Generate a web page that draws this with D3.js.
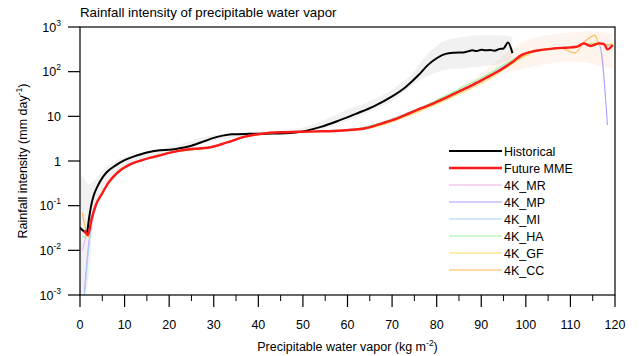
<!DOCTYPE html>
<html>
<head>
<meta charset="utf-8">
<script src="https://cdn.jsdelivr.net/npm/d3@7"></script>
<style>
  body { margin: 0; background: #fff; }
  svg text { font-family: "Liberation Sans", Arial, sans-serif; fill: #000; }
</style>
</head>
<body>
<div id="chart"></div>
<script>
// ---- data ----
const histPwv = [0, 1, 1.5, 2, 2.5, 3, 4, 5, 6, 8, 10, 12, 15, 18, 20, 22, 25, 28, 30, 32, 34, 38, 42, 46, 50, 54, 58, 62, 66, 70, 73, 76, 78, 80, 82, 84, 86, 87, 88, 89, 90, 91, 92, 93, 94, 95, 96, 97];
const histRain = [0.032, 0.026, 0.024, 0.05, 0.1, 0.16, 0.28, 0.42, 0.56, 0.8, 1.05, 1.25, 1.55, 1.75, 1.78, 1.9, 2.2, 2.8, 3.3, 3.7, 3.95, 4.05, 4.1, 4.2, 4.6, 5.8, 8.0, 11.5, 17, 28, 45, 85, 140, 200, 250, 265, 270, 285, 300, 290, 310, 300, 305, 295, 320, 330, 450, 260];

const mmePwv = [1, 1.8, 2.6, 3.5, 5, 6.5, 8.5, 11, 14, 17.5, 21, 25, 29, 33, 37, 41, 45, 49, 53, 57, 61, 64, 67, 70, 73, 76, 79, 82, 85, 88, 91, 94, 97, 99, 102, 105, 108, 110, 111.5, 113, 114.5, 116.5, 117.5, 118.3, 119.5];
const mmeRain = [0.028, 0.022, 0.05, 0.1, 0.19, 0.34, 0.56, 0.82, 1.05, 1.3, 1.6, 1.85, 2.0, 2.6, 3.5, 4.1, 4.4, 4.5, 4.6, 4.7, 5.0, 5.4, 6.6, 8.2, 10.8, 14.5, 19, 26, 36, 50, 72, 105, 165, 235, 290, 320, 340, 350, 365, 430, 375, 430, 420, 316, 395];

const modelPwv = [0.5, 1, 1.8, 2.6, 3.5, 5, 8.5, 14, 21, 29, 37, 45, 53, 61, 67, 73, 79, 85, 91, 97, 102, 108, 111, 113, 115.5, 116.5, 118.3, 119.5];
const mrRain = [0.01, 0.015, 0.03, 0.055, 0.1, 0.19, 0.56, 1.05, 1.6, 2.0, 3.5, 4.4, 4.6, 5.0, 6.6, 10.6, 18.5, 35, 70, 160, 285, 335, 350, 400, 410, 420, 380, 390];
const mpRain = [null, 0.0012, 0.01, 0.04, 0.09, 0.19, 0.55, 1.04, 1.6, 2.0, 3.5, 4.4, 4.6, 5.0, 6.7, 11.0, 19.5, 37, 74, 168, 290, 340, 355, 410, 420, 400, 6.4, null];
const miRain = [null, 0.001, 0.008, 0.04, 0.09, 0.19, 0.55, 1.05, 1.6, 2.0, 3.5, 4.4, 4.7, 5.1, 6.9, 11.4, 20, 37, 73, 162, 285, 335, 350, 410, 400, 410, 390, 380];
const haRain = [0.02, 0.02, 0.025, 0.055, 0.1, 0.2, 0.57, 1.06, 1.6, 2.0, 3.5, 4.4, 4.6, 5.1, 6.8, 11.2, 20.5, 41, 82, 185, 300, 345, 360, 420, 430, 420, 400, 410];
const gfRain = [0.03, 0.025, 0.02, 0.05, 0.1, 0.19, 0.56, 1.04, 1.6, 2.0, 3.4, 4.3, 4.5, 4.8, 6.1, 9.8, 17, 32, 63, 150, 280, 330, 345, 420, 440, 410, 400, 420];
const ccRain = [0.07, 0.04, 0.02, 0.052, 0.1, 0.19, 0.56, 1.05, 1.6, 2.0, 3.5, 4.4, 4.6, 5.0, 6.5, 10.5, 18.5, 35, 70, 160, 290, 330, 260, 450, 650, 420, 400, 400];

const models = [
  { name: "4K_MR", values: mrRain, color: "#f2b0ee" },
  { name: "4K_MP", values: mpRain, color: "#b39bff" },
  { name: "4K_MI", values: miRain, color: "#a8d2fb" },
  { name: "4K_HA", values: haRain, color: "#9ef29e" },
  { name: "4K_GF", values: gfRain, color: "#ffd75a" },
  { name: "4K_CC", values: ccRain, color: "#ffb84d" }
];

// spread of the individual members (faint haze)
const histBandPwv = [0, 1, 2, 3, 5, 8, 12, 20, 30, 40, 50, 60, 66, 70, 74, 78, 82, 86, 90, 94, 97];
const histBandLow = [0.001, 0.001, 0.003, 0.04, 0.2, 0.55, 0.9, 1.5, 2.8, 3.8, 4.2, 8, 14, 22, 45, 80, 110, 120, 130, 150, 200];
const histBandHigh = [0.5, 0.4, 0.3, 0.35, 0.6, 1.0, 1.4, 2.0, 3.8, 4.4, 5.6, 14, 24, 40, 80, 250, 500, 600, 650, 650, 600];
const futBandPwv = [85, 90, 95, 100, 105, 110, 115, 119.5];
const futBandLow = [30, 50, 90, 120, 150, 170, 150, 120];
const futBandHigh = [45, 90, 230, 500, 650, 750, 800, 700];

const xTicks = [0, 10, 20, 30, 40, 50, 60, 70, 80, 90, 100, 110, 120];
const xMinorTicks = [5, 15, 25, 35, 45, 55, 65, 75, 85, 95, 105, 115];
const yTicks = [1e3, 1e2, 10, 1, 1e-1, 1e-2, 1e-3];
const yTickBase = ["10", "10", "10", "1", "10", "10", "10"];
const yTickExp = ["3", "2", "", "", "-1", "-2", "-3"];

// ---- layout ----
const W = 639, H = 356;
const pLeft = 80, pRight = 615, pTop = 27, pBottom = 295;

const svg = d3.select("#chart").append("svg")
  .attr("width", W).attr("height", H);

const x = d3.scaleLinear().domain([0, 120]).range([pLeft, pRight]);
const y = d3.scaleLog().domain([1e-3, 1e3]).range([pBottom, pTop]);

svg.append("defs").append("clipPath").attr("id", "plotclip")
  .append("rect").attr("x", pLeft).attr("y", pTop)
  .attr("width", pRight - pLeft).attr("height", pBottom - pTop);

const plot = svg.append("g").attr("clip-path", "url(#plotclip)");

// member haze
const band = (px, lo, hi) => px.map((p, i) => ({ x: p, lo: lo[i], hi: hi[i] }));
const area = d3.area().x(d => x(d.x)).y0(d => y(d.lo)).y1(d => y(d.hi)).curve(d3.curveMonotoneX);
plot.append("path").datum(band(histBandPwv, histBandLow, histBandHigh))
  .attr("d", area).attr("fill", "#9a9a9a").attr("opacity", 0.14);
plot.append("path").datum(band(futBandPwv, futBandLow, futBandHigh))
  .attr("d", area).attr("fill", "#f3c6a6").attr("opacity", 0.2);

const line = d3.line()
  .defined(d => d.v != null)
  .x(d => x(d.x)).y(d => y(d.v))
  .curve(d3.curveMonotoneX);
const pts = (px, vals) => px.map((p, i) => ({ x: p, v: vals[i] }));

models.forEach(m => {
  plot.append("path").datum(pts(modelPwv, m.values))
    .attr("d", line).attr("fill", "none")
    .attr("stroke", m.color).attr("stroke-width", 1.1);
});

plot.append("path").datum(pts(histPwv, histRain))
  .attr("d", line).attr("fill", "none")
  .attr("stroke", "#000").attr("stroke-width", 2);

plot.append("path").datum(pts(mmePwv, mmeRain))
  .attr("d", line).attr("fill", "none")
  .attr("stroke", "#ff1a1a").attr("stroke-width", 2.4);

// ---- frame & axes ----
svg.append("rect").attr("x", pLeft).attr("y", pTop)
  .attr("width", pRight - pLeft).attr("height", pBottom - pTop)
  .attr("fill", "none").attr("stroke", "#000").attr("stroke-width", 1.2);

const xAxis = svg.append("g");
xAxis.selectAll("line.major").data(xTicks).enter().append("line")
  .attr("class", "major")
  .attr("x1", d => x(d)).attr("x2", d => x(d))
  .attr("y1", pBottom).attr("y2", pBottom + 12)
  .attr("stroke", "#000").attr("stroke-width", 1.2);
xAxis.selectAll("line.minor").data(xMinorTicks).enter().append("line")
  .attr("class", "minor")
  .attr("x1", d => x(d)).attr("x2", d => x(d))
  .attr("y1", pBottom).attr("y2", pBottom + 6)
  .attr("stroke", "#000").attr("stroke-width", 1);
xAxis.selectAll("text").data(xTicks).enter().append("text")
  .attr("x", d => x(d)).attr("y", 329)
  .attr("text-anchor", "middle").attr("font-size", 12.5)
  .text(d => d);

const yAxis = svg.append("g");
yAxis.selectAll("line").data(yTicks).enter().append("line")
  .attr("x1", pLeft - 12).attr("x2", pLeft)
  .attr("y1", d => y(d)).attr("y2", d => y(d))
  .attr("stroke", "#000").attr("stroke-width", 1.2);
const yl = yAxis.selectAll("text").data(yTicks).enter().append("text")
  .attr("x", 61).attr("y", d => y(d) + 4.5)
  .attr("text-anchor", "end").attr("font-size", 12.5);
yl.append("tspan").text((d, i) => yTickBase[i]);
yl.append("tspan").attr("dy", -6).attr("font-size", 8.5)
  .text((d, i) => yTickExp[i]);

// titles
svg.append("text").attr("x", pLeft).attr("y", 17)
  .attr("font-size", 13.3).text("Rainfall intensity of precipitable water vapor");

const xt = svg.append("text").attr("x", (pLeft + pRight) / 2).attr("y", 351)
  .attr("text-anchor", "middle").attr("font-size", 12.5);
xt.append("tspan").text("Precipitable water vapor (kg m");
xt.append("tspan").attr("dy", -5).attr("font-size", 8.5).text("-2");
xt.append("tspan").attr("dy", 5).text(")");

const yt = svg.append("text")
  .attr("transform", `translate(27,${(pTop + pBottom) / 2}) rotate(-90)`)
  .attr("text-anchor", "middle").attr("font-size", 12.5);
yt.append("tspan").text("Rainfall intensity (mm day");
yt.append("tspan").attr("dy", -5).attr("font-size", 8.5).text("-1");
yt.append("tspan").attr("dy", 5).text(")");

// ---- legend ----
const legendItems = [
  { name: "Historical", color: "#000", w: 2 },
  { name: "Future MME", color: "#ff1a1a", w: 2.4 }
].concat(models.map(m => ({ name: m.name, color: m.color, w: 1.1 })));

const lg = svg.append("g");
legendItems.forEach((d, i) => {
  const ly = 151 + i * 17;
  lg.append("line").attr("x1", 449).attr("x2", 502)
    .attr("y1", ly).attr("y2", ly)
    .attr("stroke", d.color).attr("stroke-width", d.w);
  lg.append("text").attr("x", 504).attr("y", ly + 4.5)
    .attr("font-size", 12.5).text(d.name);
});
</script>
</body>
</html>
